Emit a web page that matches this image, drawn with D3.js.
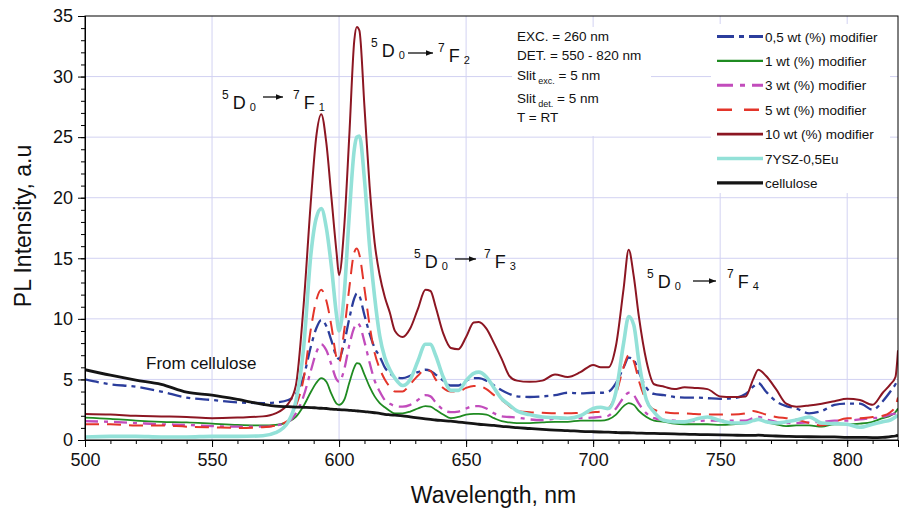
<!DOCTYPE html>
<html>
<head>
<meta charset="utf-8">
<script src="https://cdn.jsdelivr.net/npm/d3@7"></script>
<style>
  html, body { margin: 0; padding: 0; background: #fff; }
  svg { display: block; font-family: "Liberation Sans", Arial, Helvetica, sans-serif; }
</style>
</head>
<body>
<svg id="chart" width="901" height="511"></svg>
<script>
// ---------------- DATA ----------------
const wavelength = [
  500,510,520,530,540,550,560,570,575,580,
  583,586,589,591,593,595,597,599,600,602,
  604,606,607,608,610,612,614,616,618,620,
  622,625,628,631,634,636,638,641,644,647,
  650,653,655,658,661,664,667,670,675,680,
  685,690,695,700,703,706,709,712,714,716,
  718,721,724,728,732,736,740,745,750,755,
  760,763,765,768,772,776,780,785,790,795,
  800,805,810,814,817,819,820
];

const wt05 = [
  5.0,4.6,4.4,4.0,3.5,3.3,3.1,3.05,3.1,3.3,
  3.8,5.2,7.8,9.2,9.9,9.4,8.2,6.9,6.7,8.0,
  10.0,11.7,12.1,11.9,10.3,8.8,7.6,6.9,6.0,5.5,
  5.2,5.1,5.3,5.6,5.8,5.7,5.4,4.9,4.5,4.5,
  4.9,5.1,5.1,4.9,4.5,4.1,3.8,3.6,3.55,3.6,
  3.7,3.9,3.85,3.9,3.9,4.0,4.7,6.0,6.8,6.6,
  5.6,4.3,3.8,3.7,3.55,3.5,3.5,3.45,3.4,3.45,
  3.8,4.4,4.7,4.0,3.2,2.8,2.6,2.2,2.4,2.9,
  3.0,3.0,2.5,3.2,4.0,4.6,5.0
];

const wt1 = [
  1.85,1.75,1.6,1.5,1.45,1.35,1.25,1.2,1.25,1.5,
  1.9,2.8,4.0,4.7,5.1,4.8,3.8,3.0,2.9,3.3,
  4.7,6.0,6.35,6.3,5.4,4.4,3.6,3.05,2.7,2.4,
  2.2,2.2,2.35,2.6,2.8,2.75,2.5,2.1,1.8,1.9,
  2.1,2.15,2.15,2.1,1.8,1.55,1.45,1.4,1.4,1.45,
  1.5,1.5,1.6,1.6,1.6,1.7,2.1,2.8,3.05,2.9,
  2.4,1.9,1.6,1.5,1.35,1.3,1.3,1.3,1.25,1.3,
  1.4,1.6,1.7,1.5,1.3,1.15,1.2,1.2,1.1,1.3,
  1.3,1.35,1.5,1.8,2.0,2.3,2.6
];

const wt3 = [
  1.55,1.5,1.4,1.3,1.25,1.15,1.1,1.1,1.2,1.5,
  2.2,3.6,5.8,7.2,7.9,7.4,6.2,5.0,4.8,5.8,
  7.8,9.3,9.65,9.5,8.1,6.4,4.9,4.0,3.3,3.0,
  2.8,2.75,2.9,3.3,3.7,3.6,3.1,2.5,2.3,2.35,
  2.6,2.8,2.8,2.6,2.2,1.95,1.9,1.85,1.7,1.65,
  1.75,1.8,1.8,1.85,1.9,2.0,2.6,3.5,3.9,3.7,
  3.0,2.2,1.8,1.65,1.6,1.55,1.55,1.6,1.6,1.6,
  1.6,1.8,1.9,1.7,1.5,1.4,1.4,1.45,1.5,1.6,
  1.6,1.7,1.8,1.9,2.1,2.2,2.4
];

const wt5 = [
  1.3,1.3,1.2,1.2,1.1,1.05,1.0,1.05,1.2,1.6,
  2.8,5.0,9.3,11.5,12.4,11.5,9.4,6.8,6.4,9.0,
  12.5,15.5,15.8,15.3,12.5,9.5,7.2,5.9,5.0,4.4,
  4.0,4.0,4.6,5.3,5.8,5.7,5.0,4.3,4.0,4.0,
  4.3,4.45,4.45,4.2,3.7,3.3,2.8,2.4,2.3,2.25,
  2.2,2.2,2.25,2.3,2.35,2.6,3.8,6.0,7.0,6.5,
  4.9,3.2,2.5,2.3,2.2,2.2,2.15,2.1,2.1,2.1,
  2.2,2.4,2.3,2.1,1.9,1.8,1.7,1.4,1.2,1.5,
  1.8,1.8,1.9,2.0,2.3,2.8,3.5
];

const wt10 = [
  2.15,2.1,2.0,1.95,1.9,1.8,1.85,1.95,2.2,3.0,
  4.5,11,20,25,26.9,24.5,20,15.5,13.6,17.5,
  25,33,34.1,33.8,27.5,21,16.3,13.6,11.8,10.5,
  9.0,8.5,9.2,10.8,12.4,12.3,11,8.8,7.6,7.5,
  8.5,9.7,9.75,9.2,8.0,6.7,5.3,4.9,4.8,4.9,
  5.4,5.2,5.6,6.2,6.0,6.0,7.8,12.5,15.7,13.5,
  10.2,6.5,4.6,4.4,4.2,4.35,4.3,4.2,3.6,3.55,
  3.6,5.0,5.8,5.3,4.2,3.0,2.75,2.85,3.0,3.2,
  3.4,3.3,2.9,3.9,4.6,5.2,7.4
];

const ysz = [
  0.25,0.3,0.3,0.25,0.25,0.3,0.3,0.35,0.6,1.5,
  3.2,7.5,15.5,18.3,19.1,17.5,14.3,10.3,9.0,12.0,
  18.5,24.0,25.0,25.1,21.5,16.0,11.8,8.6,6.8,5.8,
  5.1,4.5,5.0,6.5,7.9,7.9,7.0,5.2,4.1,4.1,
  4.9,5.5,5.6,5.2,4.3,3.4,2.9,2.4,2.1,1.9,
  1.85,1.8,2.0,2.6,2.7,2.6,4.0,8.0,10.2,9.5,
  6.5,3.3,2.3,1.6,1.5,1.5,1.7,1.9,1.6,1.4,
  1.4,1.6,1.7,1.5,1.4,1.5,1.65,1.9,1.4,1.35,
  1.3,1.05,1.3,1.5,1.65,1.9,2.05
];

const cellulose = [
  5.8,5.35,4.95,4.6,3.95,3.7,3.35,2.95,2.8,2.75,
  2.72,2.7,2.68,2.65,2.62,2.6,2.55,2.52,2.5,2.48,
  2.45,2.42,2.4,2.38,2.35,2.3,2.25,2.2,2.12,2.08,
  2.05,2.0,1.9,1.82,1.75,1.7,1.65,1.6,1.55,1.48,
  1.42,1.35,1.3,1.25,1.2,1.12,1.08,1.02,0.95,0.88,
  0.82,0.78,0.72,0.68,0.66,0.65,0.62,0.6,0.6,0.58,
  0.57,0.55,0.55,0.52,0.5,0.48,0.46,0.44,0.42,0.4,
  0.38,0.38,0.4,0.36,0.33,0.3,0.28,0.27,0.26,0.25,
  0.22,0.22,0.2,0.22,0.28,0.33,0.4
];

const seriesNames = ["0,5 wt (%) modifier","1 wt (%) modifier","3 wt (%) modifier","5 wt (%) modifier","10 wt (%) modifier","7YSZ-0,5Eu","cellulose"];
const seriesValues = [wt05, wt1, wt3, wt5, wt10, ysz, cellulose];

const xTicks = [500,550,600,650,700,750,800];
const yTicks = [0,5,10,15,20,25,30,35];

const infoLines = [
  {main:"EXC. = 260 nm"},
  {main:"DET. = 550 - 820 nm"},
  {main:"Slit", sub:"exc.", rest:" = 5 nm"},
  {main:"Slit", sub:"det.", rest:" = 5 nm"},
  {main:"T = RT"}
];

const transitions = [
  {lo:"0", hi:"1", wl:593},
  {lo:"0", hi:"2", wl:607},
  {lo:"0", hi:"3", wl:635},
  {lo:"0", hi:"4", wl:714}
];

// ---------------- STYLE ----------------
const styles = [
  {color:"#2b3d9c", width:2.3, dash:"14,5,4,5"},
  {color:"#1f8b21", width:1.8, dash:null},
  {color:"#c24cbc", width:2.3, dash:"13,6,4,6"},
  {color:"#e3352a", width:2.0, dash:"14,8"},
  {color:"#8c1622", width:2.0, dash:null},
  {color:"#93e1d8", width:3.6, dash:null},
  {color:"#151515", width:2.8, dash:null}
];

const svg = d3.select("#chart");
const L = 85, R = 898, T = 16, B = 440;

const x = d3.scaleLinear().domain([500, 820]).range([L, R]);
const y = d3.scaleLinear().domain([0, 35]).range([B, T]);

// gridlines
const grid = svg.append("g").attr("stroke", "#d2d2f2").attr("stroke-width", 1);
grid.selectAll("line.gx").data(xTicks.filter(d => d > 500)).join("line")
  .attr("x1", d => x(d)).attr("x2", d => x(d)).attr("y1", T).attr("y2", B);
grid.selectAll("line.gy").data(yTicks.filter(d => d > 0 && d < 35)).join("line")
  .attr("y1", d => y(d)).attr("y2", d => y(d)).attr("x1", L).attr("x2", R);

// white boxes (info + legend) sit over the grid
svg.append("rect").attr("x", 512).attr("y", 27).attr("width", 139).attr("height", 109).attr("fill", "#fff");
svg.append("rect").attr("x", 711).attr("y", 24).attr("width", 179).attr("height", 169).attr("fill", "#fff");

// series
svg.append("clipPath").attr("id", "clip").append("rect")
  .attr("x", L).attr("y", T).attr("width", R - L).attr("height", B - T);

const line = d3.line().x(d => x(d[0])).y(d => y(d[1])).curve(d3.curveMonotoneX);
const plot = svg.append("g").attr("clip-path", "url(#clip)");
seriesValues.forEach((vals, i) => {
  const pts = wavelength.map((w, k) => [w, vals[k]]);
  const s = styles[i];
  plot.append("path").datum(pts)
    .attr("d", line)
    .attr("fill", "none")
    .attr("stroke", s.color)
    .attr("stroke-width", s.width)
    .attr("stroke-linejoin", "round")
    .attr("stroke-dasharray", s.dash);
});

// frame
svg.append("rect").attr("x", L).attr("y", T).attr("width", R - L).attr("height", B - T)
  .attr("fill", "none").attr("stroke", "#000").attr("stroke-width", 1);

// axes
const fontTick = 18;
const gxMinor = svg.append("g").attr("transform", `translate(0,${B})`)
  .call(d3.axisBottom(x).tickValues(d3.range(500, 821, 10)).tickSize(4).tickFormat(""));
const gx = svg.append("g").attr("transform", `translate(0,${B})`)
  .call(d3.axisBottom(x).tickValues(xTicks).tickSize(7).tickPadding(6).tickFormat(d3.format("d")));
const gyMinor = svg.append("g").attr("transform", `translate(${L},0)`)
  .call(d3.axisLeft(y).tickValues(d3.range(0, 36, 1)).tickSize(4).tickFormat(""));
const gy = svg.append("g").attr("transform", `translate(${L},0)`)
  .call(d3.axisLeft(y).tickValues(yTicks).tickSize(7).tickPadding(5).tickFormat(d3.format("d")));
[gx, gy, gxMinor, gyMinor].forEach(g => {
  g.select(".domain").attr("stroke", "#000");
  g.selectAll(".tick line").attr("stroke", "#000");
  g.selectAll("text").attr("font-size", fontTick).attr("fill", "#111")
    .attr("font-family", '"Liberation Sans", Arial, sans-serif');
});

// axis titles
svg.append("text").attr("x", (L + R) / 2 + 2).attr("y", 503)
  .attr("text-anchor", "middle").attr("font-size", 23).attr("fill", "#111")
  .text("Wavelength, nm");
svg.append("text").attr("transform", "translate(31,226) rotate(-90)")
  .attr("text-anchor", "middle").attr("font-size", 23).attr("fill", "#111")
  .text("PL Intensity, a.u");

// info box text
const info = svg.append("g").attr("font-size", 13.5).attr("fill", "#111");
const infoBase = [41, 60, 80, 103, 122];
infoLines.forEach((ln, i) => {
  const t = info.append("text").attr("x", 517).attr("y", infoBase[i]);
  t.append("tspan").text(ln.main);
  if (ln.sub) {
    t.append("tspan").attr("font-size", 9).attr("dy", 4).text(" " + ln.sub);
    t.append("tspan").attr("dy", -4).text(ln.rest);
  }
});

// legend
const leg = svg.append("g");
seriesNames.forEach((name, i) => {
  const cy = 36.5 + i * 24.4;
  const s = styles[i];
  leg.append("line").attr("x1", 717).attr("x2", 763).attr("y1", cy).attr("y2", cy)
    .attr("stroke", s.color).attr("stroke-width", Math.min(s.width + 0.6, 3.6))
    .attr("stroke-dasharray", s.dash ? (i === 0 ? "17,5,5,5" : i === 2 ? "16,7,5,7" : "15,12") : null);
  leg.append("text").attr("x", 765).attr("y", cy + 5).attr("font-size", 13.5).attr("fill", "#111").text(name);
});

// transition annotations
svg.append("defs").append("marker").attr("id", "arr").attr("viewBox", "0 0 10 10")
  .attr("refX", 10).attr("refY", 5).attr("markerWidth", 7).attr("markerHeight", 7)
  .attr("markerUnits", "userSpaceOnUse").attr("orient", "auto")
  .append("path").attr("d", "M0,1 L10,5 L0,9 Z").attr("fill", "#111");

const annLayout = [
  {x5:222, yL:109, a1:263, a2:283, ay:97,  x7:293, yR:109},
  {x5:371, yL:57,  a1:408, a2:433, ay:53,  x7:438, yR:62},
  {x5:414, yL:268, a1:455, a2:476, ay:259, x7:484, yR:268},
  {x5:647, yL:288, a1:693, a2:716, ay:281, x7:727, yR:288}
];
transitions.forEach((tr, i) => {
  const p = annLayout[i];
  const g = svg.append("g").attr("fill", "#111");
  const t1 = g.append("text").attr("x", p.x5).attr("y", p.yL);
  t1.append("tspan").attr("font-size", 12).attr("dy", -10).text("5");
  t1.append("tspan").attr("font-size", 18).attr("dx", 4).attr("dy", 10).text("D");
  t1.append("tspan").attr("font-size", 11).attr("dx", 4).attr("dy", 2).text(tr.lo);
  g.append("line").attr("x1", p.a1).attr("x2", p.a2).attr("y1", p.ay).attr("y2", p.ay)
    .attr("stroke", "#111").attr("stroke-width", 1.3).attr("marker-end", "url(#arr)");
  const t2 = g.append("text").attr("x", p.x7).attr("y", p.yR);
  t2.append("tspan").attr("font-size", 12).attr("dy", -10).text("7");
  t2.append("tspan").attr("font-size", 18).attr("dx", 4).attr("dy", 10).text("F");
  t2.append("tspan").attr("font-size", 11).attr("dx", 4).attr("dy", 2).text(tr.hi);
});

svg.append("text").attr("x", 146).attr("y", 369).attr("font-size", 17).attr("fill", "#111")
  .text("From cellulose");
</script>
</body>
</html>
